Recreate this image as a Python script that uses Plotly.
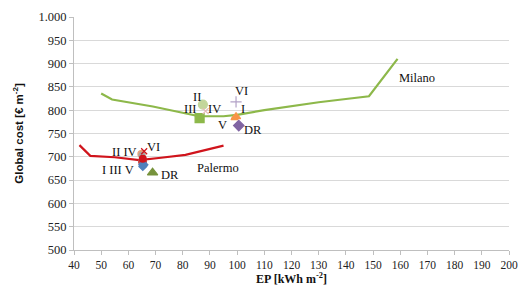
import plotly.graph_objects as go

# Cost-optimal curves
milano_ep = [50, 54, 69, 76, 86, 95, 100, 110, 120, 130, 140, 148.5, 159]
milano_cost = [836, 823, 808, 800, 787, 787, 790, 800, 809, 817, 824, 830, 910]
palermo_ep = [42, 46, 55, 64, 72, 81, 95]
palermo_cost = [725, 702, 699, 693, 698, 704, 724]

# Milano scenario points
mi_labels = ["I", "II", "III", "IV", "V", "VI", "DR"]
mi_ep = [99.6, 87.4, 86.2, 88.4, 99.0, 99.6, 100.6]
mi_cost = [786, 812, 783, 798, 783, 818, 767]

# Palermo scenario points
pa_labels = ["I", "II", "III", "IV", "V", "VI", "DR"]
pa_ep = [65.2, 64.8, 65.5, 65.0, 65.3, 65.8, 68.9]
pa_cost = [690, 706, 683, 703, 679, 712, 666]

x_ticks = list(range(40, 201, 10))
y_ticks = list(range(500, 1001, 50))
y_ticktext = ["1.000" if v == 1000 else str(v) for v in y_ticks]

GREEN = "#8DB84A"
RED = "#D0141C"
SERIF = "Liberation Serif"

fig = go.Figure()
fig.add_trace(go.Scatter(x=milano_ep, y=milano_cost, mode="lines",
                         line=dict(color=GREEN, width=2.2), hoverinfo="skip"))
fig.add_trace(go.Scatter(x=palermo_ep, y=palermo_cost, mode="lines",
                         line=dict(color=RED, width=2.2), hoverinfo="skip"))

mi_style = {
    "I": ("triangle-up", "#F79646", 8),
    "II": ("circle", "#C3D69B", 9),
    "III": ("square", "#8DB84A", 9),
    "IV": ("x-thin-open", "#E6B9B8", 6),
    "V": ("triangle-up", "#F79646", 6),
    "VI": ("cross-thin-open", "#B3A2C7", 8),
    "DR": ("diamond", "#8064A2", 8),
}
pa_style = {
    "I": ("circle", "#C0504D", 8),
    "II": ("circle", "#E6A07A", 7),
    "III": ("diamond", "#4F81BD", 7),
    "IV": ("circle", "#A5A5A5", 6),
    "V": ("diamond", "#4F81BD", 6),
    "VI": ("x-thin-open", "#D0141C", 6),
    "DR": ("triangle-up", "#77933C", 9),
}
for lab, x, y in zip(mi_labels, mi_ep, mi_cost):
    s, c, sz = mi_style[lab]
    fig.add_trace(go.Scatter(x=[x], y=[y], mode="markers",
                             marker=dict(symbol=s, color=c, size=sz,
                                         line=dict(color=c, width=1.2))))
for lab, x, y in zip(pa_labels, pa_ep, pa_cost):
    s, c, sz = pa_style[lab]
    fig.add_trace(go.Scatter(x=[x], y=[y], mode="markers",
                             marker=dict(symbol=s, color=c, size=sz,
                                         line=dict(color=c, width=1.2))))
fig.add_trace(go.Scatter(x=[65.3], y=[696], mode="markers",
                         marker=dict(symbol="circle", color=RED, size=8)))

# Text labels (positions in data units)
lab_text = ["II", "III", "IV", "VI", "I", "V", "DR", "Milano",
            "II IV", "VI", "I III V", "DR", "Palermo"]
lab_x = [85.1, 82.7, 91.5, 101.6, 102.0, 94.7, 106.0, 166.0,
         58.5, 69.3, 56.3, 75.3, 93.0]
lab_y = [829, 802, 802, 842, 802, 769, 757, 870,
         711, 720, 672, 660, 677]
for t, x, y in zip(lab_text, lab_x, lab_y):
    fig.add_annotation(x=x, y=y, text=t, showarrow=False,
                       font=dict(family=SERIF, size=12.5, color="#111111"))

fig.update_layout(
    width=518, height=293,
    margin=dict(l=74, r=9, t=17, b=43),
    paper_bgcolor="white", plot_bgcolor="white",
    showlegend=False,
    font=dict(family=SERIF, size=12, color="#222222"),
)
fig.update_xaxes(
    range=[40, 200], tickvals=x_ticks, ticktext=[str(v) for v in x_ticks],
    showgrid=False, showline=True, linecolor="#BFBFBF", linewidth=1,
    ticks="outside", ticklen=4, tickcolor="#BFBFBF",
    tickfont=dict(family=SERIF, size=11.5, color="#222222"), zeroline=False,
    automargin=False, ticklabeloverflow="allow",
    title=dict(text="<b>EP [kWh m<sup>-2</sup>]</b>", standoff=4,
               font=dict(family=SERIF, size=12, color="#111111")),
)
fig.update_yaxes(
    range=[500, 1000], tickvals=y_ticks, ticktext=y_ticktext,
    showgrid=True, gridcolor="#D9D9D9", gridwidth=1,
    showline=True, linecolor="#BFBFBF", linewidth=1,
    ticks="outside", ticklen=4, tickcolor="#BFBFBF",
    tickfont=dict(family=SERIF, size=12.5, color="#222222"), zeroline=False,
    automargin=False,
    title=dict(text="<b>Global cost [€ m<sup>-2</sup>]</b>", standoff=12,
               font=dict(family="Liberation Sans", size=11.5, color="#111111")),
)

fig.write_html(
    "out.html",
    config={"displayModeBar": False},
    post_script="document.body.style.margin='0';document.body.style.overflow='hidden';",
)
